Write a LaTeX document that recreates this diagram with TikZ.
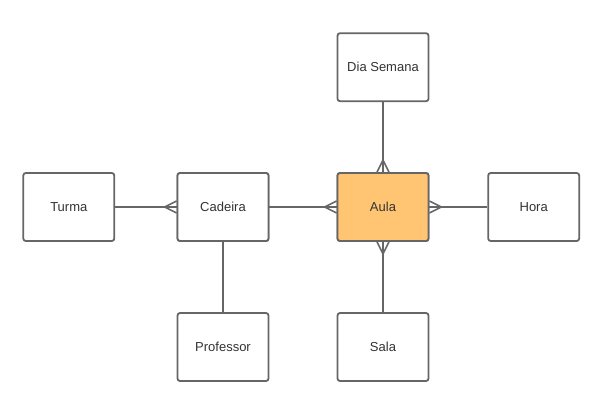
\documentclass[tikz,border=0pt]{standalone}
\usepackage{fontspec}
\setmainfont{Liberation Sans}
\usetikzlibrary{calc}
\definecolor{edgegray}{HTML}{666666}
\definecolor{txtgray}{HTML}{333333}
\definecolor{aulafill}{HTML}{FFC573}
\tikzset{
  entity/.style={draw=edgegray, line width=1.8pt, rounded corners=2.5pt, fill=white,
    minimum width=91pt, minimum height=68pt, inner sep=0pt,
    text=txtgray, font=\fontsize{13}{15}\selectfont},
  link/.style={draw=edgegray, line width=1.6pt},
}
\begin{document}
\begin{tikzpicture}[x=1pt,y=-1pt]
\useasboundingbox (0,0) rectangle (611,413);
\node[entity] (turma) at (68.8,207) {Turma};
\node[entity] (cad) at (223,207) {Cadeira};
\node[entity, fill=aulafill] (aula) at (383,207) {Aula};
\node[entity] (hora) at (533.7,207) {Hora};
\node[entity] (dia) at (383,67.2) {Dia Semana};
\node[entity] (prof) at (223,347) {Professor};
\node[entity] (sala) at (383,347) {Sala};
% connectors
\draw[link] (turma.east) -- (cad.west);
\draw[link] (cad.east) -- (aula.west);
\draw[link] (aula.east) -- (hora.west);
\draw[link] (dia.south) -- (aula.north);
\draw[link] (sala.north) -- (aula.south);
\draw[link] (cad.south) -- (prof.north);
% crow's feet (many ends)
\draw[link] ($(cad.west)+(0,-6)$) -- ($(cad.west)+(-12,0)$) -- ($(cad.west)+(0,6)$);
\draw[link] ($(aula.west)+(0,-6)$) -- ($(aula.west)+(-12,0)$) -- ($(aula.west)+(0,6)$);
\draw[link] ($(aula.east)+(0,-6)$) -- ($(aula.east)+(12,0)$) -- ($(aula.east)+(0,6)$);
\draw[link] ($(aula.north)+(-6,0)$) -- ($(aula.north)+(0,-12)$) -- ($(aula.north)+(6,0)$);
\draw[link] ($(aula.south)+(-6,0)$) -- ($(aula.south)+(0,12)$) -- ($(aula.south)+(6,0)$);
% redraw box borders over foot ends
\node[entity] at (cad) {Cadeira};
\node[entity, fill=aulafill] at (aula) {Aula};
\end{tikzpicture}
\end{document}
